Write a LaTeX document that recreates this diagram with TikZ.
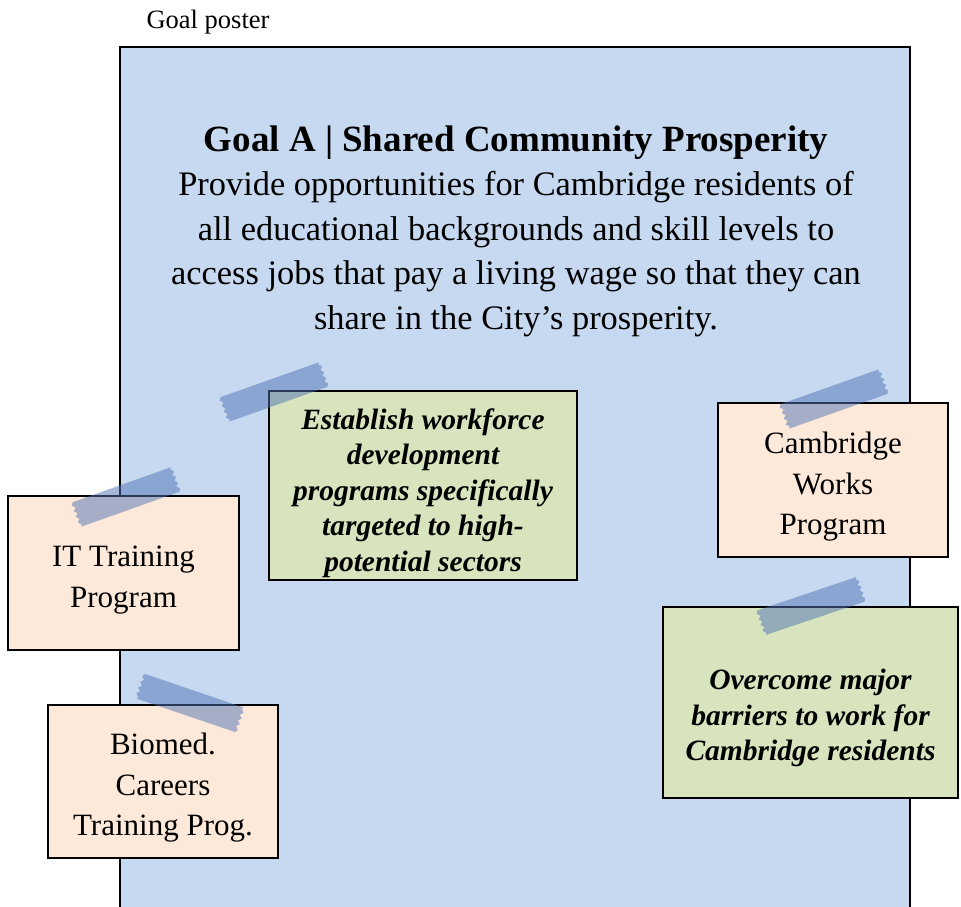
\documentclass[tikz,border=0pt]{standalone}
\usepackage{fontspec}
\setmainfont{Liberation Serif}
\usetikzlibrary{shadows}
\definecolor{posterblue}{RGB}{198,217,240}
\definecolor{peach}{RGB}{253,233,217}
\definecolor{notegreen}{RGB}{215,228,189}
\definecolor{tapeblue}{RGB}{80,115,180}
\tikzset{
  x=1pt, y=1pt,
  notebox/.style={draw=black, line width=1.5pt, inner sep=0pt,
    drop shadow={opacity=0.35, shadow xshift=1.2pt, shadow yshift=-1.2pt}},
  peachnote/.style={notebox, fill=peach},
  greennote/.style={notebox, fill=notegreen},
  peachtext/.style={align=center, inner sep=0pt, font=\fontsize{31}{40.5}\selectfont},
  greentext/.style={align=center, inner sep=0pt, font=\fontsize{29.5}{35.5}\selectfont\bfseries\itshape},
  tapestyle/.style={fill=tapeblue, fill opacity=0.5, draw=none}
}
\newcommand{\tapepiece}[3]{%
  \begin{scope}[shift={(#1,#2)}, rotate=#3]
    \path[tapestyle] (-52,-13) -- (52,-13) -- (54,-10) -- (51,-7) -- (54,-4) -- (51,-1)
      -- (54,2) -- (51,5) -- (54,8) -- (51,11) -- (52,13) -- (-52,13)
      -- (-54,10) -- (-51,7) -- (-54,4) -- (-51,1) -- (-54,-2) -- (-51,-5)
      -- (-54,-8) -- (-51,-11) -- cycle;
  \end{scope}}
\begin{document}
\begin{tikzpicture}
\useasboundingbox (0,0) rectangle (961,907);
\begin{scope}
\clip (0,0) rectangle (961,907);
% poster
\fill[posterblue] (120,-5) rectangle (910,860);
\draw[line width=1.5pt] (120,-5) -- (120,860) -- (910,860) -- (910,-5);
\end{scope}
\node (lbl) at (208,885) {\fontsize{26.5}{30}\selectfont Goal poster};
\node[align=center, font=\fontsize{34.4}{44.5}\selectfont] (goal) at (516,676)
  {{\fontsize{37}{44.5}\selectfont\bfseries Goal A | Shared Community Prosperity}\\
   Provide opportunities for Cambridge residents of\\
   all educational backgrounds and skill levels to\\
   access jobs that pay a living wage so that they can\\
   share in the City’s prosperity.};
% notes
\node[greennote, minimum width=308, minimum height=189] (est) at (423,421.5) {};
\node[greentext] (estt) at (423,414)
  {Establish workforce\\development\\programs specifically\\targeted to high-\\potential sectors};
\node[peachnote, minimum width=231, minimum height=154] (it) at (123.5,334) {};
\node[peachtext] (itt) at (123.5,327) {IT Training\\Program};
\node[peachnote, minimum width=230, minimum height=153] (bio) at (163,125.5) {};
\node[peachtext] (biot) at (163,119) {Biomed.\\Careers\\Training Prog.};
\node[peachnote, minimum width=230, minimum height=154] (cw) at (833,427) {};
\node[peachtext] (cwt) at (833,420) {Cambridge\\Works\\Program};
\node[greennote, minimum width=295, minimum height=191] (ovc) at (810.5,204.5) {};
\node[greentext] (ovct) at (810.5,189)
  {Overcome major\\barriers to work for\\Cambridge residents};
% tapes
\tapepiece{274}{515}{19.5}
\tapepiece{126}{410}{19.6}
\tapepiece{190}{204}{-18.8}
\tapepiece{834}{508}{19.5}
\tapepiece{811}{301}{18.6}
\end{tikzpicture}
\end{document}
